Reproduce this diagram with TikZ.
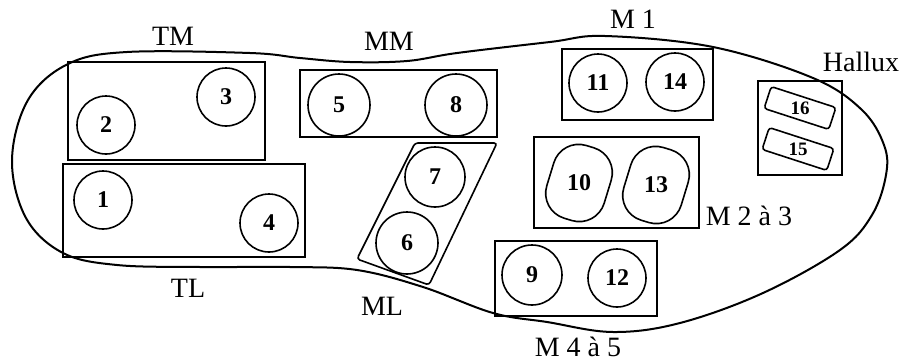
\documentclass[tikz,border=0pt]{standalone}
\usepackage{fontspec}
\setmainfont{Liberation Serif}
\begin{document}
\begin{tikzpicture}[x=1pt, y=-1pt,
    zone/.style={line width=2pt},
    pad/.style={draw, circle, line width=1.6pt, minimum size=58pt, inner sep=0pt,
        font=\fontsize{24}{24}\selectfont\bfseries},
    padshape/.style={draw, rectangle, rounded corners=26pt, line width=1.6pt,
        minimum width=60pt, minimum height=76pt, rotate=-17},
    toe/.style={draw, rectangle, rounded corners=3pt, line width=1.6pt,
        minimum width=68pt, minimum height=23pt, rotate=-18},
    num/.style={font=\fontsize{24}{24}\selectfont\bfseries},
    toenum/.style={font=\fontsize{19}{19}\selectfont\bfseries},
    zonelabel/.style={font=\fontsize{28}{28}\selectfont}]
    \useasboundingbox (0,0) rectangle (906,362);

    % Outline of the sole (heel on the left, toes on the right)
    \draw[line width=2pt] plot[smooth cycle, tension=0.6] coordinates {
        (12,160) (28,100) (68,64) (127,52) (250,53) (300,58) (350,62)
        (407,61) (457,53) (550,42) (605,36) (713,47) (813,78) (862,110)
        (884,145) (886,175) (872,215) (840,250) (763,293) (680,323)
        (613,332) (547,322) (493,313) (423,287) (357,270) (290,267)
        (200,267) (117,265) (63,253) (26,218)};

    % Heel zones TM and TL
    \draw[zone] (68,62) rectangle (265,160);
    \draw[zone] (63,164) rectangle (305,257);

    % Midfoot zones MM and ML
    \draw[zone] (300,70) rectangle (497,137);
    \draw[line width=1.6pt, rounded corners=3pt]
        (415,143) -- (497,143) -- (429,285) -- (357,259) -- cycle;

    % Forefoot zones M 1, M 2 a 3, M 4 a 5 and hallux
    \draw[zone] (562,49) rectangle (713,120);
    \draw[zone] (534,137) rectangle (699,228);
    \draw[zone] (495,241) rectangle (657,316);
    \draw[zone] (758,81) rectangle (842,175);

    % Round pressure sensors
    \node[pad] (p1) at (103,200) {1};
    \node[pad] (p2) at (106,125) {2};
    \node[pad] (p3) at (226,97) {3};
    \node[pad] (p4) at (269,223) {4};
    \node[pad, minimum size=62pt] (p5) at (339,105) {5};
    \node[pad, minimum size=62pt] (p6) at (407,243) {6};
    \node[pad, minimum size=60pt] (p7) at (435,177) {7};
    \node[pad, minimum size=62pt] (p8) at (456,105) {8};
    \node[pad, minimum size=60pt] (p9) at (532,275) {9};
    \node[pad] (p11) at (598,83) {11};
    \node[pad] (p12) at (617,278) {12};
    \node[pad] (p14) at (675,82) {14};

    % Slanted sensors under the second and third metatarsals
    \node[padshape] (s10) at (579,183) {};
    \node[num] (n10) at (s10.center) {10};
    \node[padshape] (s13) at (656,185) {};
    \node[num] (n13) at (s13.center) {13};

    % Small sensors under the hallux
    \node[toe] (s16) at (800,108) {};
    \node[toenum] (n16) at (s16.center) {16};
    \node[toe] (s15) at (798,149) {};
    \node[toenum] (n15) at (s15.center) {15};

    % Zone labels
    \node[zonelabel] (tm) at (173,36) {TM};
    \node[zonelabel] (tl) at (188,288) {TL};
    \node[zonelabel] (mm) at (389,41) {MM};
    \node[zonelabel] (ml) at (382,306) {ML};
    \node[zonelabel] (m1) at (633,19) {M 1};
    \node[zonelabel] (hallux) at (861,62) {Hallux};
    \node[zonelabel] (m23) at (749,216) {M 2 à 3};
    \node[zonelabel] (m45) at (578,347) {M 4 à 5};
\end{tikzpicture}
\end{document}
